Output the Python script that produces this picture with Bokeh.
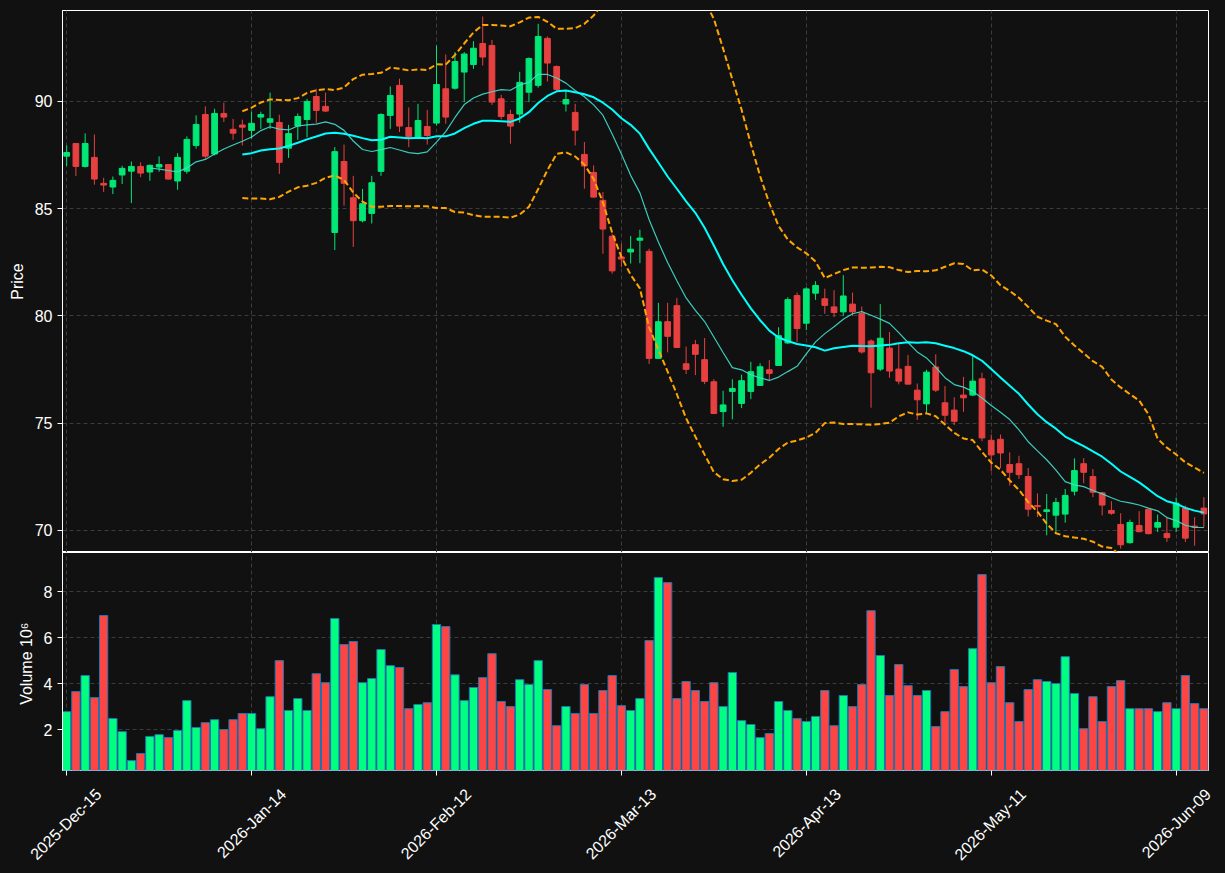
import math
import pandas as pd
from bokeh.plotting import figure
from bokeh.layouts import column
from bokeh.models import FixedTicker, Range1d, LinearAxis
from bokeh.embed import file_html
from bokeh.resources import INLINE

opens = [87.45, 88.04, 86.97, 87.39, 86.18, 86.01, 86.57, 86.75, 86.97, 86.71,
         86.94, 87.06, 86.29, 86.75, 87.95, 89.39, 87.55, 89.44, 88.70, 88.90,
         88.65, 89.27, 89.03, 89.02, 87.82, 88.85, 89.16, 90.23, 89.77, 83.89,
         87.20, 85.51, 84.44, 84.78, 86.74, 89.35, 90.75, 88.78, 88.36, 88.83,
         88.99, 90.59, 90.62, 91.37, 91.72, 92.70, 92.61, 90.12, 89.39, 89.41,
         90.43, 90.75, 92.94, 91.63, 89.88, 89.49, 87.53, 86.69, 85.39, 83.71,
         82.75, 82.98, 83.53, 83.01, 78.02, 79.73, 80.48, 77.77, 78.66, 77.96,
         76.93, 75.54, 76.48, 75.92, 76.48, 76.76, 77.49, 77.69, 78.74, 80.95,
         79.66, 81.06, 80.80, 80.42, 80.19, 80.55, 80.11, 78.83, 77.52, 78.50,
         77.52, 77.65, 76.54, 75.90, 77.62, 75.95, 75.61, 76.31, 76.31, 77.07,
         74.20, 74.25, 73.07, 73.11, 72.51, 71.16, 70.88, 70.71, 70.76, 71.83,
         73.11, 72.51, 71.75, 70.93, 70.28, 69.43, 70.23, 70.98, 70.15, 69.86,
         70.15, 71.04, 70.20, 71.04]
highs = [87.95, 88.05, 88.51, 88.46, 86.44, 86.50, 87.00, 87.20, 87.16, 87.06,
         87.44, 87.08, 87.59, 88.37, 89.35, 89.77, 89.66, 89.94, 89.19, 89.15,
         89.53, 89.52, 90.41, 89.38, 88.91, 89.44, 90.12, 90.59, 90.41, 87.87,
         87.99, 86.53, 85.92, 86.53, 89.45, 90.70, 91.06, 89.72, 89.89, 89.61,
         92.61, 92.19, 92.30, 92.30, 92.81, 93.96, 92.87, 90.31, 89.61, 91.38,
         92.05, 93.62, 93.03, 91.68, 90.51, 89.89, 88.11, 87.02, 85.78, 83.83,
         83.37, 83.73, 84.02, 83.13, 80.61, 80.61, 80.84, 78.57, 78.88, 78.97,
         77.05, 76.51, 77.05, 77.26, 77.86, 77.79, 77.94, 79.47, 80.87, 81.09,
         81.34, 81.62, 81.27, 81.20, 81.90, 81.09, 80.44, 78.91, 80.55, 79.25,
         78.68, 78.18, 76.85, 77.49, 78.21, 76.73, 76.21, 77.16, 78.18, 77.35,
         74.47, 74.47, 73.64, 73.48, 72.91, 71.73, 71.70, 71.52, 71.93, 73.36,
         73.37, 72.86, 71.80, 71.36, 70.80, 70.50, 70.90, 71.00, 70.74, 70.62,
         71.53, 71.16, 70.62, 71.55]
lows = [86.99, 86.52, 86.92, 86.12, 85.78, 85.68, 86.15, 85.26, 86.47, 86.30,
        86.72, 86.36, 85.88, 86.63, 87.80, 87.33, 87.48, 89.04, 88.21, 87.95,
        88.26, 88.72, 88.72, 86.62, 87.37, 88.21, 88.33, 88.99, 89.50, 83.07,
        85.14, 83.22, 84.36, 84.31, 86.53, 88.72, 88.57, 87.87, 88.33, 87.99,
        88.88, 88.96, 90.55, 89.97, 91.52, 91.68, 89.84, 89.16, 88.03, 89.01,
        89.97, 90.64, 90.93, 90.50, 89.53, 87.95, 85.93, 85.51, 82.90, 81.97,
        82.28, 82.44, 82.46, 77.76, 78.00, 78.30, 78.50, 77.29, 77.24, 76.82,
        75.42, 74.83, 75.18, 75.70, 76.12, 76.74, 77.01, 77.67, 78.69, 78.77,
        79.34, 80.75, 80.10, 79.95, 80.00, 80.00, 78.24, 75.72, 77.43, 77.12,
        76.81, 76.80, 75.15, 75.44, 76.45, 75.01, 74.91, 75.53, 76.26, 74.16,
        72.76, 72.91, 72.09, 72.40, 70.65, 70.62, 69.77, 69.92, 70.36, 71.63,
        72.20, 71.55, 70.70, 70.73, 69.15, 69.38, 69.91, 69.81, 69.92, 69.46,
        69.92, 69.46, 69.29, 70.15]
closes = [87.62, 86.97, 88.04, 86.38, 86.10, 86.32, 86.88, 86.97, 86.66, 87.02,
          87.06, 86.38, 87.39, 88.23, 88.93, 87.45, 89.44, 89.27, 88.52, 88.80,
          88.98, 89.39, 89.19, 87.16, 88.50, 89.30, 90.00, 89.58, 89.55, 87.66,
          86.18, 84.44, 85.23, 86.21, 89.39, 90.28, 88.85, 88.36, 89.11, 88.41,
          90.79, 89.27, 91.86, 92.21, 92.48, 92.07, 89.97, 89.30, 88.85, 90.89,
          92.00, 93.03, 91.79, 90.56, 90.09, 88.66, 86.99, 85.54, 84.05, 82.10,
          82.65, 83.11, 83.63, 78.02, 79.73, 79.05, 78.53, 77.51, 78.21, 76.95,
          75.45, 75.85, 76.62, 76.98, 77.40, 77.63, 77.32, 79.08, 80.76, 79.41,
          81.26, 81.42, 80.49, 80.16, 80.93, 80.19, 78.32, 77.35, 78.96, 77.43,
          76.96, 76.82, 76.09, 77.38, 76.54, 75.37, 75.09, 76.18, 76.96, 74.31,
          73.52, 73.61, 72.71, 72.60, 70.99, 71.11, 70.96, 71.30, 71.63, 72.79,
          72.71, 71.78, 71.18, 70.80, 69.33, 70.37, 69.94, 69.85, 70.37, 69.66,
          71.27, 69.64, 70.15, 70.77]
volumes_m = [2.78, 3.65, 4.35, 3.39, 6.96, 2.48, 1.91, 0.65, 0.96, 1.70,
             1.78, 1.65, 1.96, 3.26, 2.09, 2.30, 2.43, 2.00, 2.43, 2.70,
             2.70, 2.04, 3.43, 5.00, 2.83, 3.35, 2.83, 4.43, 4.04, 6.83,
             5.70, 5.83, 4.04, 4.22, 5.48, 4.78, 4.70, 2.91, 3.09, 3.17,
             6.57, 6.48, 4.38, 3.26, 3.83, 4.26, 5.30, 3.22, 3.00, 4.17,
             3.96, 5.00, 3.74, 2.17, 3.00, 2.70, 3.96, 2.70, 3.70, 4.35,
             3.04, 2.83, 3.35, 5.87, 8.61, 8.39, 3.35, 4.09, 3.70, 3.22,
             4.04, 3.00, 4.48, 2.39, 2.22, 1.65, 1.83, 3.22, 2.83, 2.48,
             2.35, 2.57, 3.70, 2.17, 3.48, 3.00, 3.96, 7.17, 5.22, 3.48,
             4.83, 3.91, 3.48, 3.70, 2.13, 2.78, 4.61, 3.87, 5.52, 8.74,
             4.04, 4.74, 3.17, 2.35, 3.74, 4.17, 4.09, 4.00, 5.17, 3.57,
             2.04, 3.43, 2.35, 3.87, 4.13, 2.91, 2.91, 2.91, 2.78, 3.17,
             2.91, 4.35, 3.13, 2.91]
tick_idx = [0, 20, 40, 60, 80, 100, 120]
tick_labels = ["2025-Dec-15", "2026-Jan-14", "2026-Feb-12", "2026-Mar-13",
               "2026-Apr-13", "2026-May-11", "2026-Jun-09"]

BG = "#111111"
UP_C, DN_C = "#02e775", "#e74040"
UP_V, DN_V = "#00ff80", "#ff4444"
FONT = "Liberation Sans"
FS = "16px"

n = len(closes)
idx = list(range(n))
cs = pd.Series(closes)
sma10 = cs.rolling(10).mean()
sma20 = cs.rolling(20).mean()
std20 = cs.rolling(20).std(ddof=0)
upper = sma20 + 2 * std20
lower = sma20 - 2 * std20

up = [c >= o for o, c in zip(opens, closes)]
ccol = [UP_C if u else DN_C for u in up]
vcol = [UP_V if u else DN_V for u in up]
tops = [max(o, c) for o, c in zip(opens, closes)]
bots = [min(o, c) for o, c in zip(opens, closes)]
bots = [b if t - b > 0.04 else t - 0.04 for t, b in zip(tops, bots)]

X0, X1 = -0.45, 123.5
FRAME_W, LEFT, RIGHT = 1146, 62, 17
xr = Range1d(X0, X1)
shift = 3.45   # index units: centres each rotated label on its tick


def style(p):
    p.background_fill_color = BG
    p.border_fill_color = BG
    p.outline_line_color = "white"
    p.outline_line_width = 1
    for g in (p.xgrid, p.ygrid):
        g.grid_line_color = "#3c3c3c"
        g.grid_line_dash = "4 3"
        g.grid_line_width = 1
    for ax in (p.xaxis, p.yaxis):
        ax.axis_line_color = "white"
        ax.major_tick_line_color = "white"
        ax.minor_tick_line_color = None
        ax.major_tick_out = 5
        ax.major_tick_in = 0
        ax.major_label_standoff = 5
        ax.major_label_text_color = "white"
        ax.major_label_text_font = FONT
        ax.major_label_text_font_size = FS
        ax.axis_label_text_color = "white"
        ax.axis_label_text_font = FONT
        ax.axis_label_text_font_size = FS
        ax.axis_label_text_font_style = "normal"
        ax.axis_label_standoff = 6


p1 = figure(frame_width=FRAME_W, frame_height=542, x_range=xr,
            y_range=Range1d(68.97, 94.24), output_backend="svg",
            toolbar_location=None, min_border_left=LEFT, min_border_right=RIGHT,
            min_border_top=10, min_border_bottom=0)
style(p1)
p1.xaxis.ticker = FixedTicker(ticks=tick_idx)
p1.xgrid.ticker = FixedTicker(ticks=tick_idx)
p1.xaxis.visible = False
p1.yaxis.ticker = FixedTicker(ticks=[70, 75, 80, 85, 90])
p1.yaxis.axis_label = "Price"

p1.segment(x0=idx, y0=lows, x1=idx, y1=highs, line_color=ccol, line_width=1)
p1.vbar(x=idx, width=0.62, top=tops, bottom=bots, fill_color=ccol,
        line_color=ccol, line_width=1)
p1.line(idx, upper.tolist(), line_color="#ffa500", line_width=2, line_dash="6 3")
p1.line(idx, lower.tolist(), line_color="#ffa500", line_width=2, line_dash="6 3")
p1.line(idx, sma10.tolist(), line_color="#40e0d0", line_width=1.2, line_alpha=0.9)
p1.line(idx, sma20.tolist(), line_color="#00ffff", line_width=2)

p2 = figure(frame_width=FRAME_W, frame_height=218, x_range=xr,
            y_range=Range1d(0.22, 9.70), output_backend="svg",
            toolbar_location=None, min_border_left=LEFT, min_border_right=RIGHT,
            min_border_top=0, min_border_bottom=103)
p2.extra_x_ranges = {"lab": Range1d(X0 - shift, X1 - shift)}
style(p2)
p2.xaxis.ticker = FixedTicker(ticks=tick_idx)
p2.xgrid.ticker = FixedTicker(ticks=tick_idx)
p2.xaxis.visible = False
p2.yaxis.ticker = FixedTicker(ticks=[2, 4, 6, 8])
p2.yaxis.axis_label = "Volume  10⁶"

# date axis: labels on shifted range, tick marks drawn as minor ticks at the true dates
lab_axis = LinearAxis(
    x_range_name="lab",
    ticker=FixedTicker(ticks=tick_idx, minor_ticks=[t - shift for t in tick_idx]),
    major_label_overrides={i: l for i, l in zip(tick_idx, tick_labels)},
    major_label_orientation=math.pi / 4,
    axis_line_color=None, major_tick_line_color=None,
    major_tick_out=0, major_tick_in=0,
    minor_tick_line_color="white", minor_tick_out=5, minor_tick_in=0,
    major_label_standoff=16, major_label_text_color="white",
    major_label_text_font=FONT, major_label_text_font_size=FS)
p2.add_layout(lab_axis, "below")

p2.vbar(x=idx, width=0.9, top=volumes_m, bottom=0, fill_color=vcol,
        line_color="#1f77b4", line_width=1)

layout = column(p1, p2, spacing=0, background=BG)
open("out.html", "w").write(file_html(layout, INLINE))
